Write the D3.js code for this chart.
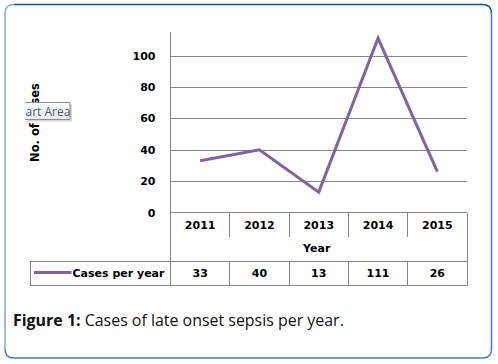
<!DOCTYPE html>
<html>
<head>
<meta charset="utf-8">
<script src="https://cdn.jsdelivr.net/npm/d3@7"></script>
<style>
  html, body { margin: 0; padding: 0; background: #fff; }
  svg { display: block; }
</style>
</head>
<body>
<svg id="chart" width="498" height="364"></svg>
<script>
const categories = ["2011", "2012", "2013", "2014", "2015"];
const values = [33, 40, 13, 111, 26];
const yTicks = [0, 20, 40, 60, 80, 100];
const seriesName = "Cases per year";
const xTitle = "Year";
const yTitle = "No. of cases";
const captionBold = "Figure 1:";
const captionText = " Cases of late onset sepsis per year.";
const tooltipText = "art Area";

const svg = d3.select("#chart");
const gridColor = "#868686";
const lineColor = "#8064A2";
const tableFont = "'DejaVu Sans', Verdana, sans-serif";

// Outer rounded frame
const fx0 = 5, fy0 = 4.5, fx1 = 491.5, fy1 = 358, r = 9;
svg.append("path")
  .attr("d", `M${fx0},${fy1 - r} L${fx0},${fy0 + r} Q${fx0},${fy0} ${fx0 + r},${fy0}`)
  .attr("fill", "none").attr("stroke", "#7FA9D1").attr("stroke-width", 1.5);
svg.append("path")
  .attr("d", `M${fx0 + r},${fy0} L${fx1 - r},${fy0} Q${fx1},${fy0} ${fx1},${fy0 + r}`)
  .attr("fill", "none").attr("stroke", "#0E4F9A").attr("stroke-width", 1.5);
svg.append("path")
  .attr("d", `M${fx1},${fy0 + r} L${fx1},${fy1 - r} Q${fx1},${fy1} ${fx1 - r},${fy1} L${fx0 + r},${fy1} Q${fx0},${fy1} ${fx0},${fy1 - r}`)
  .attr("fill", "none").attr("stroke", "#3F7EC1").attr("stroke-width", 1.5);

// Plot geometry
const plotLeft = 170.5, plotRight = 467, plotTop = 32, plotBottom = 212.5;
const row1Bottom = 237, row2Top = 261, row2Bottom = 285.5, legendLeft = 30.5;

const x = d3.scaleBand().domain(categories).range([plotLeft, plotRight]).padding(0);
const y = d3.scaleLinear().domain([0, 115]).range([plotBottom, plotTop]);

// Gridlines via axis
const gridAxis = d3.axisLeft(y).tickValues(yTicks.filter(d => d > 0))
  .tickSize(-(plotRight - plotLeft)).tickFormat("");
const gG = svg.append("g").attr("transform", `translate(${plotLeft},0)`).call(gridAxis);
gG.select(".domain").remove();
gG.selectAll(".tick line").attr("stroke", gridColor).attr("stroke-width", 1)
  .attr("shape-rendering", "crispEdges");

// Y tick labels
const yAxis = d3.axisLeft(y).tickValues(yTicks).tickSize(0).tickPadding(15);
const yG = svg.append("g").attr("transform", `translate(${plotLeft},0)`).call(yAxis);
yG.select(".domain").remove();
yG.selectAll(".tick text")
  .attr("font-family", tableFont).attr("font-weight", "bold")
  .attr("font-size", "11px").attr("fill", "#000");

// Table lines
const L = svg.append("g").attr("stroke", gridColor).attr("stroke-width", 1)
  .attr("shape-rendering", "crispEdges").attr("fill", "none");
// vertical axis line (continues through table)
L.append("line").attr("x1", plotLeft).attr("x2", plotLeft).attr("y1", plotTop).attr("y2", row2Bottom);
// bottom axis line / table top
L.append("line").attr("x1", plotLeft).attr("x2", plotRight).attr("y1", plotBottom).attr("y2", plotBottom);
// right border
L.append("line").attr("x1", plotRight).attr("x2", plotRight).attr("y1", plotBottom).attr("y2", row2Bottom);
// category dividers row 1
categories.slice(1).forEach(c => {
  L.append("line").attr("x1", x(c)).attr("x2", x(c)).attr("y1", plotBottom).attr("y2", row1Bottom);
  L.append("line").attr("x1", x(c)).attr("x2", x(c)).attr("y1", row2Top).attr("y2", row2Bottom);
});
// row 2 top & bottom
L.append("line").attr("x1", legendLeft).attr("x2", plotRight).attr("y1", row2Top).attr("y2", row2Top);
L.append("line").attr("x1", legendLeft).attr("x2", plotRight).attr("y1", row2Bottom).attr("y2", row2Bottom);
L.append("line").attr("x1", legendLeft).attr("x2", legendLeft).attr("y1", row2Top).attr("y2", row2Bottom);

// Category labels
svg.append("g").selectAll("text").data(categories).join("text")
  .attr("x", d => x(d) + x.bandwidth() / 2).attr("y", (plotBottom + row1Bottom) / 2)
  .attr("dy", "0.35em").attr("text-anchor", "middle")
  .attr("font-family", tableFont).attr("font-weight", "bold").attr("font-size", "11px")
  .text(d => d);

// Values row
svg.append("g").selectAll("text").data(values).join("text")
  .attr("x", (d, i) => x(categories[i]) + x.bandwidth() / 2).attr("y", (row2Top + row2Bottom) / 2)
  .attr("dy", "0.35em").attr("text-anchor", "middle")
  .attr("font-family", tableFont).attr("font-weight", "bold").attr("font-size", "11px")
  .text(d => d);

// X title
svg.append("text").attr("x", (plotLeft + plotRight) / 2 - 2).attr("y", 248.5).attr("dy", "0.35em")
  .attr("text-anchor", "middle").attr("font-family", tableFont).attr("font-weight", "bold")
  .attr("font-size", "11px").text(xTitle);

// Legend
svg.append("line").attr("x1", 34).attr("x2", 71.5).attr("y1", 272.5).attr("y2", 272.5)
  .attr("stroke", lineColor).attr("stroke-width", 3);
svg.append("text").attr("x", 72.5).attr("y", 273).attr("dy", "0.35em")
  .attr("font-family", tableFont).attr("font-weight", "bold").attr("font-size", "11px")
  .text(seriesName);

// Y title
svg.append("text").attr("transform", `translate(38.5,122.5) rotate(-90)`)
  .attr("text-anchor", "middle").attr("font-family", tableFont).attr("font-weight", "bold")
  .attr("font-size", "11.5px").text(yTitle);

// Data line
const line = d3.line()
  .x((d, i) => x(categories[i]) + x.bandwidth() / 2)
  .y(d => y(d));
svg.append("path").datum(values).attr("d", line)
  .attr("fill", "none").attr("stroke", lineColor).attr("stroke-width", 3)
  .attr("stroke-linejoin", "miter");

// Tooltip ("Chart Area" clipped)
const tip = svg.append("g");
tip.append("rect").attr("x", 27).attr("y", 104.5).attr("width", 45).attr("height", 17)
  .attr("fill", "#bdbdbd").attr("opacity", 0.6);
const grad = svg.append("defs").append("linearGradient").attr("id", "tipg")
  .attr("x1", 0).attr("y1", 0).attr("x2", 0).attr("y2", 1);
grad.append("stop").attr("offset", "0%").attr("stop-color", "#ffffff");
grad.append("stop").attr("offset", "100%").attr("stop-color", "#e6eaf0");
tip.append("rect").attr("x", 25).attr("y", 102.5).attr("width", 45).attr("height", 17)
  .attr("fill", "url(#tipg)");
tip.append("path").attr("d", "M25,102.5 L70,102.5 L70,119.5 L25,119.5")
  .attr("fill", "none").attr("stroke", "#8e8e8e").attr("stroke-width", 1);
tip.append("text").attr("x", 25.5).attr("y", 115.5)
  .attr("font-family", "'Open Sans', 'Noto Sans', sans-serif").attr("font-size", "12px")
  .attr("fill", "#4a5878").text(tooltipText);

// Caption
const cap = svg.append("text").attr("x", 13).attr("y", 325.5)
  .attr("font-family", "'Open Sans', 'Noto Sans', sans-serif").attr("fill", "#111");
cap.append("tspan").attr("font-weight", "bold").text(captionBold);
cap.append("tspan").text(captionText);
let fs = 16;
cap.attr("font-size", fs + "px");
const w = cap.node().getComputedTextLength();
fs = fs * 331 / w;
cap.attr("font-size", fs.toFixed(2) + "px");
</script>
</body>
</html>
